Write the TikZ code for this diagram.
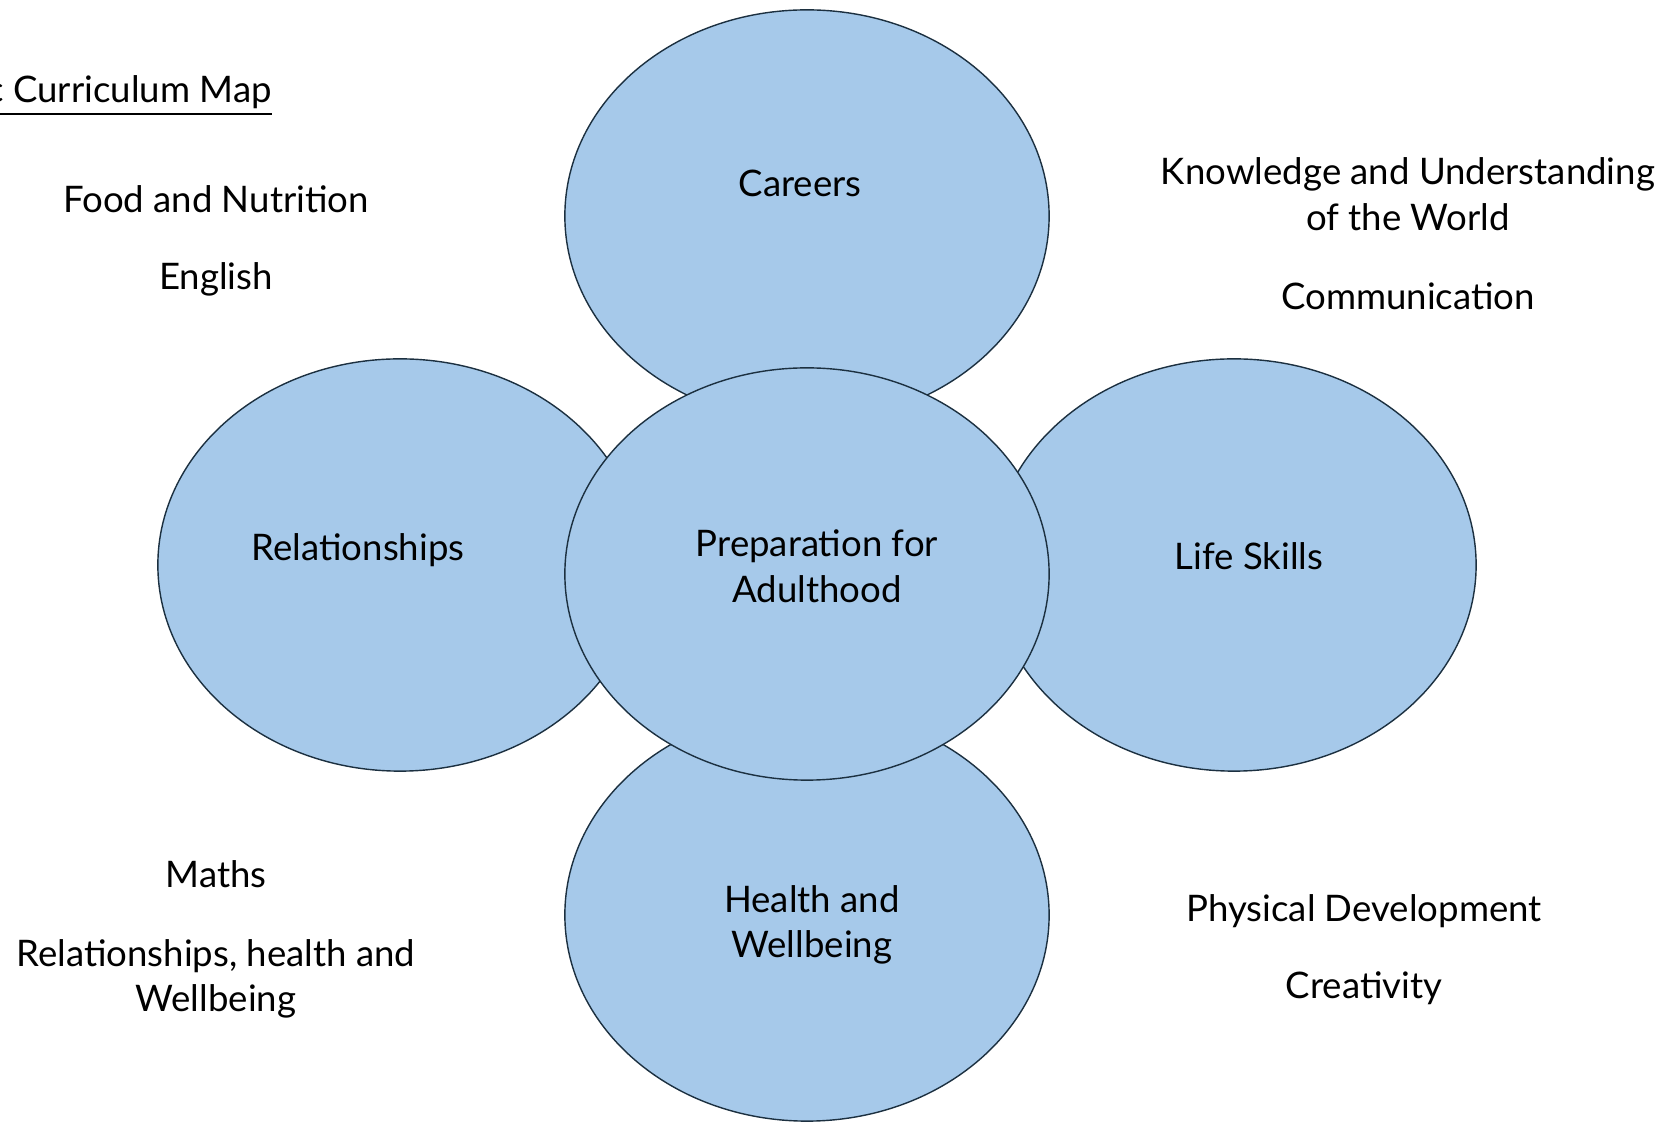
\documentclass[tikz,border=0pt]{standalone}
\usepackage{fontspec}
\setmainfont{Lato}
\usetikzlibrary{shapes.geometric}
\definecolor{bubblefill}{RGB}{166,201,234}
\definecolor{bubbleline}{RGB}{28,48,64}
\begin{document}
\begin{tikzpicture}[x=0.01cm,y=-0.01cm,
  every node/.style={font=\fontsize{10.4}{13}\selectfont,align=center},
  bubble/.style={draw=bubbleline,fill=bubblefill,thin,ellipse,inner sep=0pt,minimum width=4.84cm,minimum height=4.12cm}]
  \useasboundingbox (0,0) rectangle (1668,1125);
  \clip (0,0) rectangle (1668,1125);
  % outer petals first, hub drawn last so it sits on top
  \node[bubble] (careers) at (807,216) {};
  \node[bubble] (relations) at (400,565) {};
  \node[bubble] (lifeskills) at (1234,565) {};
  \node[bubble] (health) at (807,915) {};
  \node[bubble] (hub) at (807,574) {};
  \node (careerslbl) at (800,183) {Careers};
  \node (relationslbl) at (358,550) {Relationships};
  \node (lifeskillslbl) at (1249,556) {Life Skills};
  \node (healthlbl) at (812,925) {Health and\\Wellbeing};
  \node (hublbl) at (817,566) {Preparation for\\Adulthood};
  % subject lists in the corners
  \node[anchor=east] (title) at (284,96) {\underline{c Curriculum Map}};
  \node (food) at (216,199) {Food and Nutrition};
  \node (english) at (216,279) {English};
  \node (kuw) at (1408,194) {Knowledge and Understanding\\of the World};
  \node (comm) at (1408,296) {Communication};
  \node (maths) at (216,874) {Maths};
  \node (rhw) at (216,979) {Relationships, health and\\Wellbeing};
  \node (physdev) at (1364,911) {Physical Development};
  \node (creat) at (1364,988) {Creativity};
\end{tikzpicture}
\end{document}
